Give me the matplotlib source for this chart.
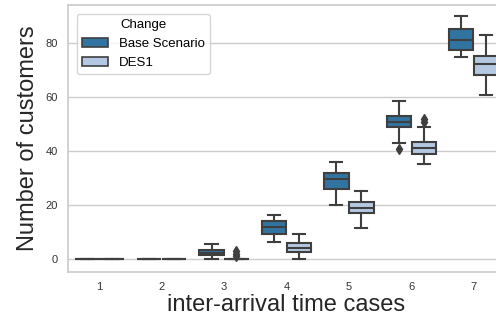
import matplotlib
matplotlib.use("Agg")

import matplotlib.pyplot as plt
from matplotlib.patches import Patch

# box summary values
cases = ["1", "2", "3", "4", "5", "6", "7"]
hue_names = ["Base Scenario", "DES1"]

base_whislo = [0, 0, 0, 6.4, 20.2, 43.2, 74.9]
base_q1 = [0, 0, 1.5, 9.3, 25.9, 48.8, 77.4]
base_med = [0, 0, 2.2, 11.7, 29.6, 50.9, 81.2]
base_q3 = [0, 0, 3.3, 14.2, 32.0, 53.0, 85.2]
base_whishi = [0, 0, 5.6, 16.3, 35.9, 58.6, 90.0]
base_fliers = [[], [], [], [], [], [41], []]

des_whislo = [0, 0, 0, 0, 11.4, 35.1, 61.0]
des_q1 = [0, 0, 0, 2.5, 17.1, 39.1, 68.1]
des_med = [0, 0, 0, 4.2, 18.8, 41.2, 72.5]
des_q3 = [0, 0, 0, 6.0, 21.1, 43.5, 75.3]
des_whishi = [0, 0, 0, 9.1, 25.2, 48.9, 83.2]
des_fliers = [[], [], [1, 2, 3], [], [], [51, 52], []]

colors = ["#3274a1", "#b5c8e1"]
gray = "#3f3f3f"

plt.rcParams["font.family"] = ["Liberation Sans", "DejaVu Sans"]


def make_stats(whislo, q1, med, q3, whishi, fliers):
    stats = []
    for i in range(len(med)):
        stats.append(dict(whislo=whislo[i], q1=q1[i], med=med[i], q3=q3[i],
                          whishi=whishi[i], fliers=fliers[i]))
    return stats


fig = plt.figure(figsize=(4.96, 3.23), dpi=100)
ax = fig.add_axes([0.137, 0.158, 0.881, 0.827])

groups = [
    make_stats(base_whislo, base_q1, base_med, base_q3, base_whishi, base_fliers),
    make_stats(des_whislo, des_q1, des_med, des_q3, des_whishi, des_fliers),
]
offsets = [-0.2, 0.2]

for stats, off, col in zip(groups, offsets, colors):
    pos = [i + off for i in range(len(cases))]
    ax.bxp(
        stats, positions=pos, widths=0.39, patch_artist=True,
        boxprops=dict(facecolor=col, edgecolor=gray, linewidth=1.5),
        medianprops=dict(color=gray, linewidth=1.5),
        whiskerprops=dict(color=gray, linewidth=1.5),
        capprops=dict(color=gray, linewidth=1.5),
        flierprops=dict(marker="d", markerfacecolor=gray, markeredgecolor=gray,
                        markersize=5),
        manage_ticks=False,
    )

ax.set_xlim(-0.5, len(cases) - 0.5)
ax.set_ylim(-4.8, 94.3)
ax.set_xticks(range(len(cases)))
ax.set_xticklabels(cases)
ax.set_yticks([0, 20, 40, 60, 80])

ax.set_facecolor("white")
ax.grid(axis="y", color="#cccccc", linewidth=1)
ax.set_axisbelow(True)
for s in ax.spines.values():
    s.set_color("#cccccc")
    s.set_linewidth(1.25)
ax.tick_params(length=0, labelsize=8, colors="#333333", pad=7)

ax.set_xlabel("inter-arrival time cases", fontsize=17, color="#262626", labelpad=2)
ax.set_ylabel("Number of customers", fontsize=17, color="#262626", labelpad=5)

handles = [Patch(facecolor=c, edgecolor=gray, linewidth=1.2) for c in colors]
leg = ax.legend(handles, hue_names, title="Change", loc="upper left",
                fontsize=9.5, title_fontsize=9.5, frameon=True,
                bbox_to_anchor=(0.005, 0.99))
leg.get_frame().set_edgecolor("#cccccc")

fig.savefig("out.png", dpi=100)
